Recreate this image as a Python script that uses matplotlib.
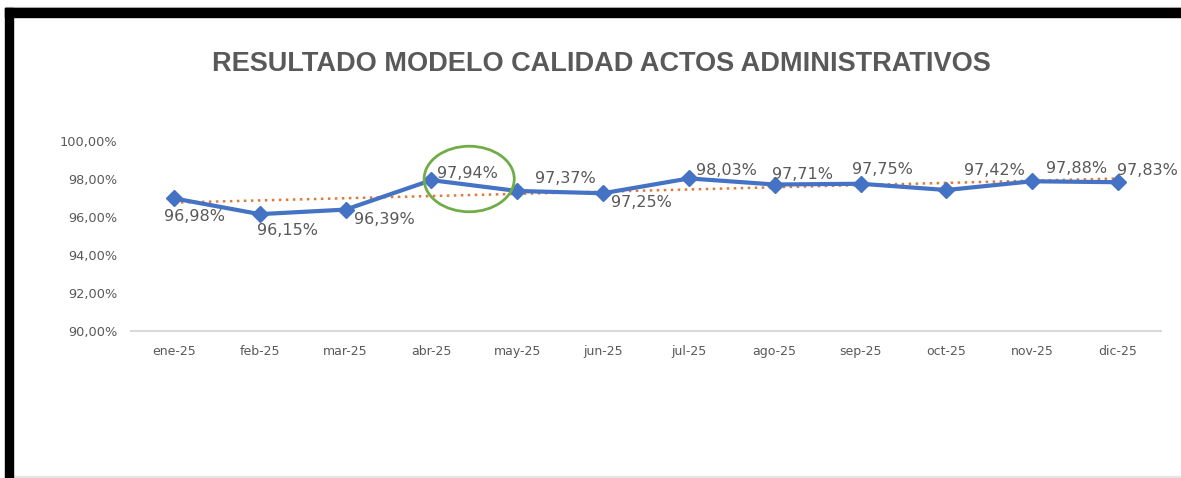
import numpy as np
from matplotlib import pyplot as plt
from matplotlib.patches import Ellipse, Rectangle

months = ['ene-25', 'feb-25', 'mar-25', 'abr-25', 'may-25', 'jun-25',
          'jul-25', 'ago-25', 'sep-25', 'oct-25', 'nov-25', 'dic-25']
resultado = [96.98, 96.15, 96.39, 97.94, 97.37, 97.25,
             98.03, 97.71, 97.75, 97.42, 97.88, 97.83]
y_ticks = [90, 92, 94, 96, 98, 100]

# label offsets in pixels (dx, dy), relative to each point
label_off = [(21, -18), (28, -16), (39, -10), (36, 7), (48, 12), (38, -9),
             (38, 8), (28, 10), (22, 14), (48, 20), (44, 13), (29, 12)]

GREY = '#595959'
W, H = 1181, 478
fig = plt.figure(figsize=(W / 100, H / 100), dpi=100)
ax = fig.add_axes([131 / W, 1 - 331 / H, 1030 / W, 190 / H])

x = np.arange(len(months))
coef = np.polyfit(x, resultado, 1)
ax.plot(x, np.polyval(coef, x), color='#E0783A', lw=1.8, ls=(0, (1, 1.8)), zorder=2)
ax.plot(x, resultado, color='#4472C4', lw=3, marker='D', ms=8, zorder=3)

for i, v in enumerate(resultado):
    ax.annotate(f'{v:.2f}%'.replace('.', ','), (i, v), xytext=label_off[i],
                textcoords='offset pixels', ha='center', va='center',
                fontsize=11.5, color=GREY)

ax.add_patch(Ellipse((3.44, 98.0), 1.05, 3.45, fill=False, ec='#70AD47', lw=2, zorder=4))

ax.set_xlim(-0.5, len(months) - 0.5)
ax.set_ylim(90, 100)
ax.set_xticks(x)
ax.set_xticklabels(months, fontsize=9, color=GREY)
ax.set_yticks(y_ticks)
ax.set_yticklabels([f'{t:.2f}%'.replace('.', ',') for t in y_ticks], fontsize=9.3, color=GREY)
ax.tick_params(length=0, pad=10)
ax.tick_params(axis='y', pad=10)
for s in ['top', 'right', 'left']:
    ax.spines[s].set_visible(False)
ax.spines['bottom'].set_color('#D9D9D9')
ax.spines['bottom'].set_linewidth(1.5)

fig.text(601 / W, 1 - 64 / H, 'RESULTADO MODELO CALIDAD ACTOS ADMINISTRATIVOS',
         ha='center', va='center', fontsize=19.5, fontweight='bold', color=GREY,
         family='Liberation Sans')

# frame of the screenshot
fig.patches.append(Rectangle((5 / W, 1 - 17 / H), 1 - 5 / W, 9 / H, transform=fig.transFigure,
                             color='black', zorder=10))
fig.patches.append(Rectangle((5 / W, 0), 8 / W, 1 - 8 / H, transform=fig.transFigure,
                             color='black', zorder=10))
fig.patches.append(Rectangle((5 / W, 1 - 8 / H), 1, 1.2 / H, transform=fig.transFigure,
                             color='#CFCFCF', zorder=9))
fig.patches.append(Rectangle((5 / W, 1 / H), 1, 1 / H, transform=fig.transFigure,
                             color='#E6E6E6', zorder=9))

fig.savefig('out.png', dpi=100)
